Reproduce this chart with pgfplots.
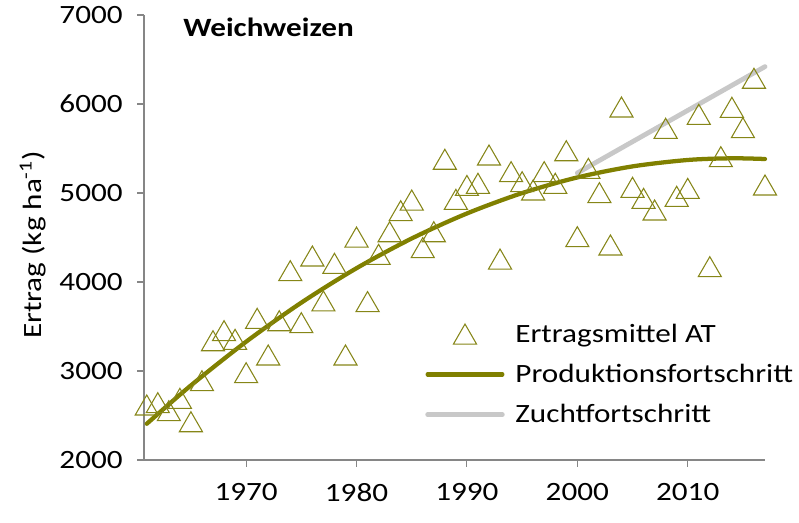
\documentclass[border=0pt]{standalone}
\usepackage{pgfplots}
\pgfplotsset{compat=1.18}
\usepackage{fontspec}
\setmainfont{Carlito}[FakeStretch=1.18]
\definecolor{olivec}{RGB}{128,128,0}
\definecolor{markc}{RGB}{134,134,24}
\definecolor{zucht}{RGB}{200,200,200}
\definecolor{axisc}{RGB}{134,134,134}

\pgfplotstableread{
year yield
1961 2618
1962 2644
1963 2554
1964 2693
1965 2430
1966 2891
1967 3340
1968 3453
1969 3356
1970 2981
1971 3592
1972 3180
1973 3565
1974 4127
1975 3543
1976 4292
1977 3787
1978 4210
1979 3180
1980 4505
1981 3780
1982 4311
1983 4565
1984 4801
1985 4921
1986 4386
1987 4565
1988 5379
1989 4929
1990 5085
1991 5109
1992 5427
1993 4258
1994 5240
1995 5127
1996 5034
1997 5240
1998 5109
1999 5475
2000 4509
2001 5277
2002 5004
2003 4416
2004 5966
2005 5064
2006 4940
2007 4809
2008 5727
2009 4963
2010 5052
2011 5884
2012 4172
2013 5408
2014 5963
2015 5734
2016 6289
2017 5090
}\ertrag

\pgfplotstableread{
year yield
1961 2407
1965 2838
1970 3329
1975 3768
1980 4155
1985 4489
1990 4770
1995 4999
2000 5175
2005 5299
2010 5371
2014 5390
2017 5382
}\prod

\pgfplotstableread{
year yield
2000 5225
2017 6420
}\zuchtt

\begin{document}
\begin{tikzpicture}
\begin{axis}[
  scale only axis,
  width=465.75pt, height=333.75pt,
  xmin=1960.75, xmax=2017,
  ymin=2000, ymax=7000,
  axis x line*=bottom, axis y line*=left,
  axis line style={axisc, line width=0.8pt, -},
  tick align=outside,
  major tick length=5pt,
  tick style={axisc, line width=0.8pt},
  xtick={1970,1980,1990,2000,2010},
  ytick={2000,3000,4000,5000,6000,7000},
  /pgf/number format/1000 sep={},
  /pgf/number format/assume math mode=true,
  font=\fontsize{19.8}{24}\selectfont,
  tick label style={font=\fontsize{19.8}{24}\selectfont, black},
  xticklabel style={yshift=-9pt},
  yticklabel style={xshift=-7.5pt},
  clip=false,
  ylabel={Ertrag (kg ha\textsuperscript{-1})},
  ylabel style={at={(axis description cs:-0.1787,0.483)}, anchor=center, font=\fontsize{19.8}{24}\selectfont},
  legend cell align=left,
  legend style={draw=none, fill=none, at={(axis description cs:0.4525,0.3125)}, anchor=north west,
    inner sep=0pt, row sep=11pt, column sep=6pt, font=\fontsize{19.8}{24}\selectfont},
  legend image code/.code={\draw[mark repeat=2,mark phase=2,#1] plot coordinates {(0pt,0pt) (28pt,0pt) (56pt,0pt)};},
]
\addplot[only marks, mark=triangle, mark size=10pt, mark options={markc, line width=0.8pt, fill=none, yshift=-2.5pt}] table[x=year,y=yield] {\ertrag};
\addlegendentry{Ertragsmittel AT}
\addplot[olivec, line width=3.2pt, smooth, line cap=round, no markers] table[x=year,y=yield] {\prod};
\addlegendentry{Produktionsfortschritt}
\addplot[zucht, line width=3.6pt, line cap=round, no markers] table[x=year,y=yield] {\zuchtt};
\addlegendentry{Zuchtfortschritt}
\node[anchor=base west, inner sep=0pt, font=\bfseries\fontsize{19.8}{24}\selectfont] at (axis description cs:0.0628,0.9506) {Weichweizen};
\end{axis}
\pgfresetboundingbox
\path[use as bounding box] (-108pt,-46.5pt) rectangle (491.25pt,345pt);
\end{tikzpicture}
\end{document}
